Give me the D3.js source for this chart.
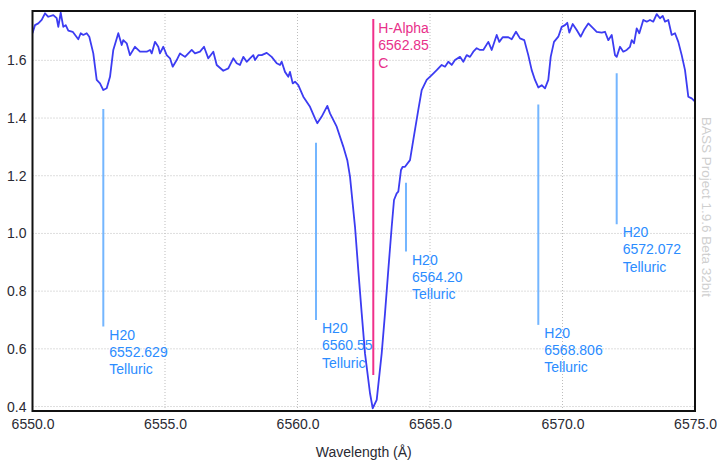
<!DOCTYPE html>
<html>
<head>
<meta charset="utf-8">
<script src="https://cdn.jsdelivr.net/npm/d3@7"></script>
<style>
  body { margin: 0; background: #fff; }
  svg { display: block; font-family: "Liberation Sans", Arial, sans-serif; }
</style>
</head>
<body>
<div id="chart"></div>
<script>
const WIDTH = 717;
const HEIGHT = 461;
const PLOT = { left: 32.5, right: 695, top: 11, bottom: 411 };

const X_DOMAIN = [6550, 6575];
const Y_DOMAIN = [0.3845, 1.771];
const X_TICKS = [6550, 6555, 6560, 6565, 6570, 6575];
const Y_TICKS = [0.4, 0.6, 0.8, 1.0, 1.2, 1.4, 1.6];

// spectrum, wavelength (Å) and relative flux
const wavelength = [
  6550.00, 6550.094, 6550.219, 6550.347, 6550.472, 6550.596, 6550.785, 6550.913, 6550.974, 6551.064,
  6551.162, 6551.253, 6551.351, 6551.517, 6551.728, 6551.819, 6551.917, 6552.045, 6552.143, 6552.294,
  6552.423, 6552.547, 6552.672, 6552.800, 6552.925, 6553.049, 6553.238, 6553.366, 6553.426, 6553.555,
  6553.679, 6553.868, 6554.057, 6554.309, 6554.434, 6554.498, 6554.623, 6554.747, 6554.811, 6554.936,
  6555.064, 6555.189, 6555.291, 6555.442, 6555.566, 6555.755, 6556.008, 6556.132, 6556.321, 6556.472,
  6556.634, 6556.823, 6556.951, 6557.200, 6557.389, 6557.577, 6557.706, 6557.830, 6557.955, 6558.083,
  6558.208, 6558.332, 6558.396, 6558.521, 6558.649, 6558.838, 6559.026, 6559.215, 6559.340, 6559.404,
  6559.528, 6559.653, 6559.717, 6559.819, 6559.906, 6560.030, 6560.219, 6560.472, 6560.660, 6560.747,
  6560.913, 6561.125, 6561.226, 6561.479, 6561.728, 6561.879, 6561.981, 6562.170, 6562.294, 6562.423,
  6562.547, 6562.736, 6562.838, 6562.989, 6563.177, 6563.302, 6563.426, 6563.555, 6563.642, 6563.743,
  6563.804, 6563.906, 6563.970, 6564.057, 6564.245, 6564.370, 6564.558, 6564.687, 6564.875, 6565.064,
  6565.253, 6565.442, 6565.566, 6565.691, 6565.819, 6565.943, 6566.132, 6566.257, 6566.385, 6566.509,
  6566.634, 6566.762, 6566.887, 6567.011, 6567.200, 6567.328, 6567.517, 6567.615, 6567.743, 6567.955,
  6568.083, 6568.245, 6568.396, 6568.558, 6568.709, 6568.838, 6568.962, 6569.087, 6569.215, 6569.340,
  6569.464, 6569.555, 6569.679, 6569.842, 6569.970, 6570.094, 6570.181, 6570.257, 6570.385, 6570.536,
  6570.687, 6570.811, 6570.974, 6571.162, 6571.291, 6571.479, 6571.604, 6571.728, 6571.857, 6571.981,
  6572.045, 6572.170, 6572.294, 6572.423, 6572.547, 6572.611, 6572.698, 6572.800, 6572.898, 6573.049,
  6573.177, 6573.302, 6573.426, 6573.555, 6573.679, 6573.781, 6573.868, 6573.992, 6574.121, 6574.245,
  6574.370, 6574.498, 6574.623, 6574.747, 6574.875, 6575.000
];
const flux = [
  1.694, 1.722, 1.728, 1.740, 1.763, 1.751, 1.757, 1.746, 1.716, 1.765,
  1.716, 1.722, 1.703, 1.699, 1.673, 1.694, 1.688, 1.694, 1.682, 1.624,
  1.532, 1.520, 1.497, 1.503, 1.543, 1.636, 1.694, 1.653, 1.670, 1.659,
  1.618, 1.647, 1.630, 1.630, 1.636, 1.624, 1.664, 1.647, 1.624, 1.647,
  1.618, 1.607, 1.578, 1.601, 1.624, 1.612, 1.636, 1.624, 1.630, 1.647,
  1.607, 1.630, 1.584, 1.564, 1.572, 1.607, 1.590, 1.584, 1.612, 1.595,
  1.607, 1.618, 1.601, 1.618, 1.618, 1.626, 1.612, 1.590, 1.584, 1.595,
  1.560, 1.543, 1.560, 1.520, 1.526, 1.514, 1.474, 1.439, 1.399, 1.382,
  1.405, 1.442, 1.416, 1.370, 1.301, 1.254, 1.197, 1.023, 0.873, 0.723,
  0.584, 0.446, 0.394, 0.423, 0.584, 0.723, 0.873, 1.023, 1.116, 1.139,
  1.145, 1.220, 1.231, 1.231, 1.254, 1.324, 1.428, 1.497, 1.532, 1.549,
  1.566, 1.584, 1.578, 1.595, 1.584, 1.601, 1.612, 1.595, 1.618, 1.612,
  1.630, 1.642, 1.636, 1.636, 1.664, 1.636, 1.688, 1.664, 1.680, 1.680,
  1.673, 1.699, 1.676, 1.670, 1.618, 1.566, 1.532, 1.506, 1.514, 1.503,
  1.532, 1.612, 1.664, 1.682, 1.716, 1.722, 1.730, 1.696, 1.726, 1.705,
  1.682, 1.705, 1.728, 1.711, 1.699, 1.696, 1.699, 1.670, 1.688, 1.618,
  1.612, 1.647, 1.630, 1.636, 1.647, 1.670, 1.659, 1.711, 1.694, 1.740,
  1.734, 1.740, 1.734, 1.760, 1.746, 1.754, 1.734, 1.740, 1.688, 1.694,
  1.664, 1.618, 1.566, 1.474, 1.468, 1.457
];

// telluric markers: drawn position, vertical extent, label
const telluricAt = [6552.672, 6560.698, 6564.094, 6569.087, 6572.045];
const telluricTop = [1.431, 1.314, 1.176, 1.447, 1.555];
const telluricBottom = [0.677, 0.700, 0.937, 0.683, 1.032];
const telluricLabel = ["6552.629", "6560.55", "6564.20", "6568.806", "6572.072"];

// H-alpha marker
const hAlphaAt = 6562.86;
const hAlphaRange = [0.509, 1.743];
const hAlphaLabel = ["H-Alpha", "6562.85", "C"];

const LINE_H = 17.3;

const svg = d3.select("#chart").append("svg")
  .attr("width", WIDTH)
  .attr("height", HEIGHT);

const x = d3.scaleLinear().domain(X_DOMAIN).range([PLOT.left, PLOT.right]);
const y = d3.scaleLinear().domain(Y_DOMAIN).range([PLOT.bottom, PLOT.top]);

svg.append("defs").append("clipPath").attr("id", "plot-clip")
  .append("rect")
  .attr("x", PLOT.left).attr("y", PLOT.top)
  .attr("width", PLOT.right - PLOT.left).attr("height", PLOT.bottom - PLOT.top);

// grid
const grid = svg.append("g").attr("class", "grid");
grid.selectAll("line.gx").data(X_TICKS.slice(1, -1)).join("line")
  .attr("class", "gx")
  .attr("x1", d => x(d)).attr("x2", d => x(d))
  .attr("y1", PLOT.top).attr("y2", PLOT.bottom)
  .attr("stroke", "#bdbdbd").attr("stroke-dasharray", "1,2");
grid.selectAll("line.gy").data(Y_TICKS).join("line")
  .attr("class", "gy")
  .attr("x1", PLOT.left).attr("x2", PLOT.right)
  .attr("y1", d => y(d)).attr("y2", d => y(d))
  .attr("stroke", "#bdbdbd").attr("stroke-dasharray", "1,2");

// axes (labels only, frame drawn separately)
const xAxis = svg.append("g")
  .attr("transform", `translate(0,${PLOT.bottom})`)
  .call(d3.axisBottom(x).tickValues(X_TICKS).tickSize(0).tickPadding(8).tickFormat(d3.format(".1f")));
const yAxis = svg.append("g")
  .attr("transform", `translate(${PLOT.left},0)`)
  .call(d3.axisLeft(y).tickValues(Y_TICKS).tickSize(0).tickPadding(6).tickFormat(d3.format(".1f")));
[xAxis, yAxis].forEach(g => {
  g.select(".domain").remove();
  g.selectAll("text")
    .attr("fill", "#2a2a33")
    .style("font-family", "'Liberation Sans', Arial, sans-serif")
    .style("font-size", "14px");
});

// markers
const marks = svg.append("g").attr("clip-path", "url(#plot-clip)");
telluricAt.forEach((w, i) => {
  marks.append("line")
    .attr("x1", x(w)).attr("x2", x(w))
    .attr("y1", y(telluricTop[i])).attr("y2", y(telluricBottom[i]))
    .attr("stroke", "#74b6ff").attr("stroke-width", 2);
});

marks.append("line")
  .attr("x1", x(hAlphaAt)).attr("x2", x(hAlphaAt))
  .attr("y1", y(hAlphaRange[1])).attr("y2", y(hAlphaRange[0]))
  .attr("stroke", "#f0308a").attr("stroke-width", 2);

// spectrum
const spectrum = wavelength.map((w, i) => [w, flux[i]]);
marks.append("path")
  .datum(spectrum)
  .attr("fill", "none")
  .attr("stroke", "#3c3cf2")
  .attr("stroke-width", 1.8)
  .attr("stroke-linejoin", "round")
  .attr("d", d3.line().x(d => x(d[0])).y(d => y(d[1])));

// marker labels
telluricAt.forEach((w, i) => {
  const t = svg.append("text")
    .attr("x", x(w) + 6)
    .attr("y", y(telluricBottom[i]) + 8)
    .attr("fill", "#2b8cff")
    .attr("font-size", 14)
    .attr("dominant-baseline", "central");
  ["H20", telluricLabel[i], "Telluric"].forEach((s, k) => {
    t.append("tspan").attr("x", x(w) + 6).attr("dy", k === 0 ? 0 : LINE_H).text(s);
  });
});

const ht = svg.append("text")
  .attr("x", x(hAlphaAt) + 5)
  .attr("y", y(hAlphaRange[1]) + 9)
  .attr("fill", "#e8308a")
  .attr("font-size", 14)
  .attr("dominant-baseline", "central");
hAlphaLabel.forEach((s, k) => {
  ht.append("tspan").attr("x", x(hAlphaAt) + 5).attr("dy", k === 0 ? 0 : LINE_H).text(s);
});

// frame
svg.append("rect")
  .attr("x", PLOT.left).attr("y", PLOT.top)
  .attr("width", PLOT.right - PLOT.left).attr("height", PLOT.bottom - PLOT.top)
  .attr("fill", "none").attr("stroke", "#111").attr("stroke-width", 2);

// axis title
svg.append("text")
  .attr("x", (PLOT.left + PLOT.right) / 2)
  .attr("y", 452)
  .attr("text-anchor", "middle")
  .attr("dominant-baseline", "central")
  .attr("fill", "#2a2a33")
  .attr("font-size", 14)
  .text("Wavelength (Å)");

// watermark
svg.append("text")
  .attr("transform", "translate(702,117) rotate(90)")
  .attr("fill", "#cfcfcf")
  .attr("font-size", 13.5)
  .text("BASS Project 1.9.6 Beta 32bit");
</script>
</body>
</html>
